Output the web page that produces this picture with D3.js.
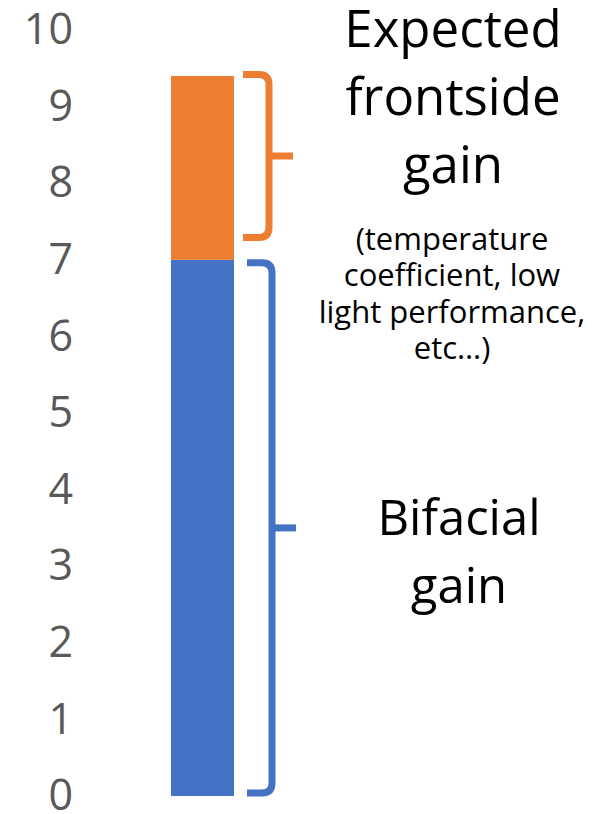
<!DOCTYPE html>
<html><head><meta charset="utf-8">
<script src="https://cdn.jsdelivr.net/npm/d3@7"></script>
<style>html,body{margin:0;padding:0;background:#fff;}svg{display:block;}</style>
</head><body>
<svg id="chart" width="603" height="814"></svg>
<script>
const categories = ["Total gain"];
const seriesNames = ["Bifacial gain", "Expected frontside gain"];
const bifacial = [7];
const frontside = [2.4];
const seriesColors = ["#4472C4", "#ED7D31"];
const tickValues = [0,1,2,3,4,5,6,7,8,9,10];
// brace spans (value units)
const braceLow = [0.04, 7.29];
const braceHigh = [6.96, 9.42];

const svg = d3.select("#chart");
const y = d3.scaleLinear().domain([0, 10]).range([796, 30]);
const x = d3.scaleBand().domain(categories).range([171, 234]).padding(0);

// axis
const axis = d3.axisLeft(y).tickValues(tickValues).tickSize(0).tickPadding(0).tickFormat(d3.format("d"));
const ag = svg.append("g").attr("transform", "translate(73,0)").call(axis);
ag.select(".domain").remove();
ag.selectAll("text").attr("font-family", "'Open Sans', sans-serif").attr("font-size", 43).attr("fill", "#595959");

// stacked bars
const rows = categories.map((c, i) => ({cat: c, "Bifacial gain": bifacial[i], "Expected frontside gain": frontside[i]}));
const stack = d3.stack().keys(seriesNames)(rows);
svg.append("g").selectAll("g").data(stack).join("g")
  .attr("fill", (d, i) => seriesColors[i])
  .selectAll("rect").data(d => d).join("rect")
  .attr("x", d => x(d.data.cat))
  .attr("width", x.bandwidth())
  .attr("y", d => y(d[1]))
  .attr("height", d => y(d[0]) - y(d[1]));

// braces
const bx0 = 243, bv = 269, btip = 293, r = 10;
seriesNames.forEach((s, i) => {
  const top = y(braceHigh[i]), bot = y(braceLow[i]), mid = (top + bot) / 2;
  const g = svg.append("g").attr("fill", "none").attr("stroke", seriesColors[i]).attr("stroke-width", 7);
  const vx = bv + (i === 0 ? 3 : 0);
  g.append("path").attr("d",
    `M${bx0 + (i===0?4:0)},${top} H${vx - r} Q${vx},${top} ${vx},${top + r} V${bot - r} Q${vx},${bot} ${vx - r},${bot} H${bx0 + (i===0?4:0)}`);
  g.append("path").attr("d", `M${vx},${mid} H${btip + (i===0?3:0)}`);
});

// labels
const big = "'Open Sans', sans-serif";
function lines(xc, baselines, texts, size) {
  texts.forEach((t, k) => {
    svg.append("text").attr("x", xc).attr("y", baselines[k]).attr("text-anchor", "middle")
      .attr("font-family", big).attr("font-size", size).attr("fill", "#000").text(t);
  });
}
lines(453, [47, 115, 183], ["Expected", "frontside", "gain"], 51);
lines(452, [250, 286, 323, 359], ["(temperature", "coefficient, low", "light performance,", "etc…)"], 31);
lines(459, [535, 603], ["Bifacial", "gain"], 49);
</script>
</body></html>
